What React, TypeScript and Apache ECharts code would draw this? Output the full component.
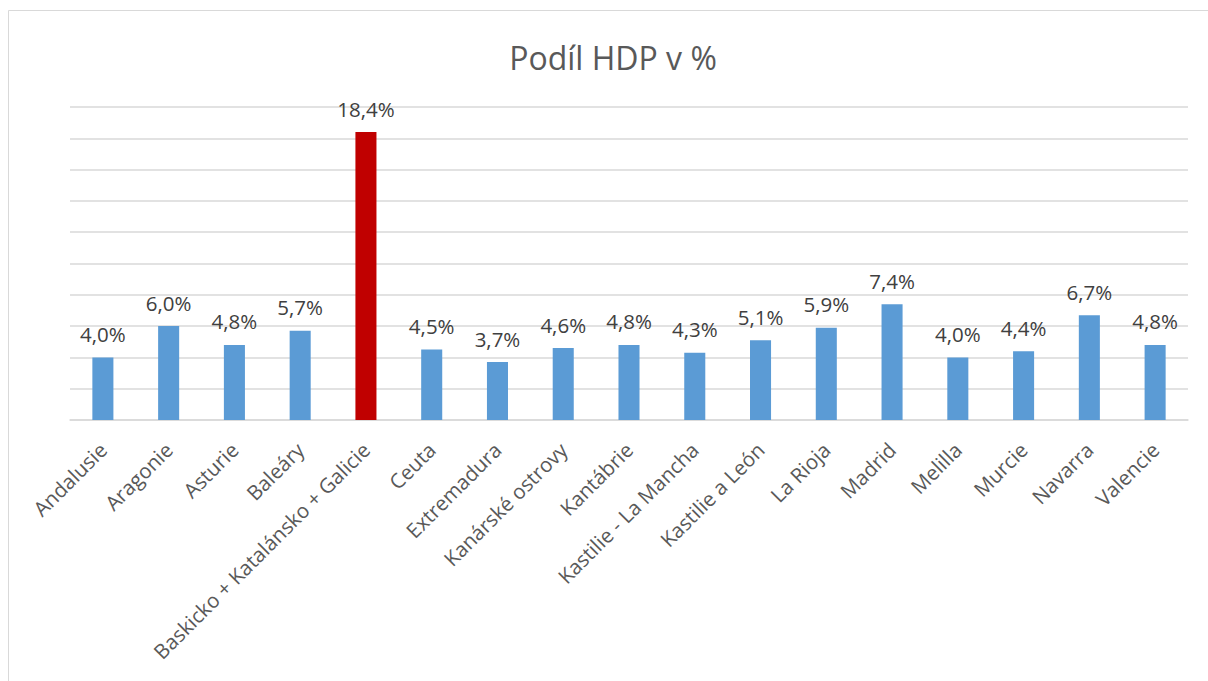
import React, { useEffect, useRef } from "react";
import * as echarts from "echarts";

const categories = [
  "Andalusie",
  "Aragonie",
  "Asturie",
  "Baleáry",
  "Baskicko + Katalánsko + Galicie",
  "Ceuta",
  "Extremadura",
  "Kanárské ostrovy",
  "Kantábrie",
  "Kastilie - La Mancha",
  "Kastilie a León",
  "La Rioja",
  "Madrid",
  "Melilla",
  "Murcie",
  "Navarra",
  "Valencie",
];
const values = [4.0, 6.0, 4.8, 5.7, 18.4, 4.5, 3.7, 4.6, 4.8, 4.3, 5.1, 5.9, 7.4, 4.0, 4.4, 6.7, 4.8];
const highlightIndex = 4;
const title = "Podíl HDP v %";

export default function App() {
  const ref = useRef<HTMLDivElement>(null);
  useEffect(() => {
    if (!ref.current) return;
    const chart = echarts.init(ref.current, undefined, { renderer: "svg" });
    chart.setOption({
      animation: false,
      backgroundColor: "#ffffff",
      graphic: [
        {
          type: "rect",
          shape: { x: 8.5, y: 10.5, width: 1210, height: 700 },
          style: { fill: "none", stroke: "#d9d9d9", lineWidth: 1 },
          silent: true,
        },
        {
          type: "text",
          x: 613,
          y: 57,
          style: {
            text: title,
            align: "center",
            verticalAlign: "middle",
            fontFamily: "Open Sans",
            fontSize: 32,
            fill: "#595959",
          },
          silent: true,
        },
      ],
      grid: { left: 70, right: 20, top: 107, bottom: 261 },
      xAxis: {
        type: "category",
        data: categories,
        axisLine: { lineStyle: { color: "#d9d9d9", width: 1.5 } },
        axisTick: { show: false },
        axisLabel: {
          rotate: 45,
          interval: 0,
          margin: 26,
          fontFamily: "Open Sans",
          fontSize: 20.5,
          color: "#595959",
        },
      },
      yAxis: {
        type: "value",
        min: 0,
        max: 20,
        interval: 2,
        axisLabel: { show: false },
        axisLine: { show: false },
        axisTick: { show: false },
        splitLine: { lineStyle: { color: "#d9d9d9", width: 1.5 } },
      },
      series: [
        {
          type: "bar",
          barWidth: "32%",
          data: values.map((v, i) => ({
            value: v,
            itemStyle: { color: i === highlightIndex ? "#c00000" : "#5b9bd5" },
          })),
          label: {
            show: true,
            position: "top",
            distance: 13,
            fontFamily: "Open Sans",
            fontSize: 20.5,
            color: "#404040",
            formatter: (p: any) => p.value.toFixed(1).replace(".", ",") + "%",
          },
        },
      ],
    });
    return () => chart.dispose();
  }, []);
  return (
    <div
      ref={ref}
      style={{ position: "fixed", left: 0, top: 0, width: 1208, height: 681 }}
    />
  );
}
